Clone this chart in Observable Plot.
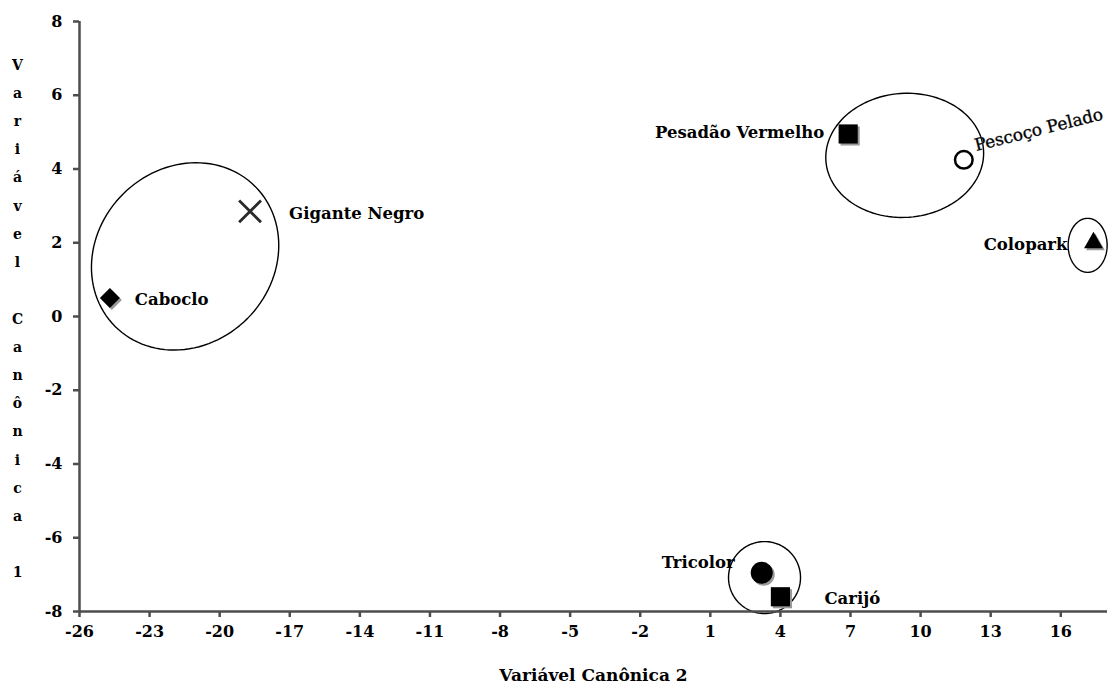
<!DOCTYPE html>
<html><head><meta charset="utf-8">
<script src="https://cdn.jsdelivr.net/npm/d3@7"></script>
<script src="https://cdn.jsdelivr.net/npm/@observablehq/plot@0.6"></script>
<style>body{margin:0;background:#fff} svg{display:block}</style>
</head><body><div id="chart"></div>
<script>
// ---- data ----
const names = ["Caboclo", "Gigante Negro", "Pesadão Vermelho", "Pescoço Pelado", "Colopark", "Tricolor", "Carijó"];
const canonica2 = [-24.7, -18.7, 6.9, 11.85, 17.4, 3.2, 4.0];
const canonica1 = [0.5, 2.85, 4.95, 4.25, 2.0, -6.95, -7.6];
// groups (ellipses): centres in data units
const groupCx = [-21.48, 9.32, 17.15, 3.32];
const groupCy = [1.63, 4.37, 1.93, -7.08];
const xTicks = [-26, -23, -20, -17, -14, -11, -8, -5, -2, 1, 4, 7, 10, 13, 16];
const yTicks = [-8, -6, -4, -2, 0, 2, 4, 6, 8];
const xLabel = "Variável Canônica 2";
const yLabel = "Variável Canônica 1";

// ---- layout / styles ----
const W = 1108, H = 686, ML = 79, MR = 1, MT = 21, MB = 75;
const xDomain = [-26, 18], yDomain = [-8, 8];
const kx = (W - ML - MR) / (xDomain[1] - xDomain[0]);
const ky = (H - MT - MB) / (yDomain[1] - yDomain[0]);
// ellipse shapes in screen pixels: semi-axes and tilt (deg)
const groupShape = [
  {a: 99, b: 88, tilt: -45},
  {a: 79, b: 62, tilt: -4},
  {a: 19.5, b: 27, tilt: 0},
  {a: 36, b: 36, tilt: 0}
];
const FONT = "DejaVu Serif";
const LBL = 16.5;
const style = {
  "Caboclo": {symbol: "diamond2", r: 9, fill: "black", shadow: true, lab: {dx: 25, dy: 2, textAnchor: "start"}},
  "Gigante Negro": {symbol: "times", r: 10, fill: "none", stroke: "#2a2a2a", strokeWidth: 2.8, lab: {dx: 39, dy: 2, textAnchor: "start"}},
  "Pesadão Vermelho": {symbol: "square", r: 10.8, fill: "black", shadow: true, lab: {dx: -24, dy: -1, textAnchor: "end"}},
  "Pescoço Pelado": {symbol: "circle", r: 8.8, fill: "white", stroke: "black", strokeWidth: 2.5, lab: {dx: 11, dy: -14, textAnchor: "start", rotate: -14, fontWeight: "normal", fontSize: 17}},
  "Colopark": {symbol: "triangle2", r: 9, fill: "black", shadow: true, lab: {dx: -26, dy: 2, textAnchor: "end"}},
  "Tricolor": {symbol: "circle", r: 11, fill: "black", shadow: true, lab: {dx: -27, dy: -10, textAnchor: "end"}},
  "Carijó": {symbol: "square", r: 10.8, fill: "black", shadow: true, lab: {dx: 44, dy: 2, textAnchor: "start"}}
};

const points = names.map((name, i) => ({name, x: canonica2[i], y: canonica1[i]}));
const ellipsePts = [];
groupCx.forEach((cx, g) => {
  const {a, b, tilt} = groupShape[g];
  const th = tilt * Math.PI / 180;
  for (let deg = 0; deg < 360; deg += 3) {
    const t = deg * Math.PI / 180;
    const u = a * Math.cos(t), v = b * Math.sin(t);
    const px = u * Math.cos(th) - v * Math.sin(th);
    const py = u * Math.sin(th) + v * Math.cos(th);
    ellipsePts.push({g, x: cx + px / kx, y: groupCy[g] - py / ky});
  }
});

const marks = [
  Plot.line(ellipsePts, {x: "x", y: "y", z: "g", stroke: "black", strokeWidth: 1.4, curve: "linear-closed"}),
  Plot.ruleX([-26], {stroke: "#4d4d4d", strokeWidth: 2.5}),
  Plot.ruleY([-8], {stroke: "#4d4d4d", strokeWidth: 2.5}),
  Plot.axisX({ticks: xTicks, tickSize: 6, tickPadding: 8, stroke: "#4d4d4d", strokeWidth: 2.5, fill: "black",
    fontSize: 16, fontWeight: "bold", fontFamily: FONT, tickFormat: d => String(d), label: null}),
  Plot.axisY({ticks: yTicks, tickSize: 6, tickPadding: 11, stroke: "#4d4d4d", strokeWidth: 2.5, fill: "black",
    fontSize: 16, fontWeight: "bold", fontFamily: FONT, tickFormat: d => String(d), label: null}),
  Plot.text([xLabel], {frameAnchor: "bottom", dy: 57, lineAnchor: "top", fontSize: 17, fontWeight: "bold", fontFamily: FONT, fill: "black"}),
  Plot.text([yLabel.split("").join("\n")], {frameAnchor: "left", dx: -62, dy: -2, textAnchor: "middle", lineHeight: 2.015, fontSize: 14, fontWeight: "bold", fontFamily: FONT, fill: "black"})
];

points.forEach(d => {
  const s = style[d.name];
  if (s.shadow) marks.push(Plot.dot([d], {x: "x", y: "y", symbol: s.symbol, r: s.r, fill: "#9a9a9a", dx: 2, dy: 2}));
});
points.forEach(d => {
  const s = style[d.name];
  marks.push(Plot.dot([d], {x: "x", y: "y", symbol: s.symbol, r: s.r, fill: s.fill, stroke: s.stroke || "none", strokeWidth: s.strokeWidth || 0}));
  marks.push(Plot.text([d], {x: "x", y: "y", text: "name", dx: s.lab.dx, dy: s.lab.dy, textAnchor: s.lab.textAnchor,
    rotate: s.lab.rotate || 0, fontSize: s.lab.fontSize || LBL, fontWeight: s.lab.fontWeight || "bold", fontFamily: FONT, fill: "black",
    stroke: s.lab.rotate ? "#888" : null, strokeWidth: s.lab.rotate ? 0.6 : null}));
});

const chart = Plot.plot({
  width: W, height: H,
  marginLeft: ML, marginRight: MR, marginTop: MT, marginBottom: MB,
  x: {domain: xDomain},
  y: {domain: yDomain},
  style: {fontFamily: FONT, background: "white", color: "black"},
  marks
});
document.getElementById("chart").append(chart);
</script>
</body></html>
